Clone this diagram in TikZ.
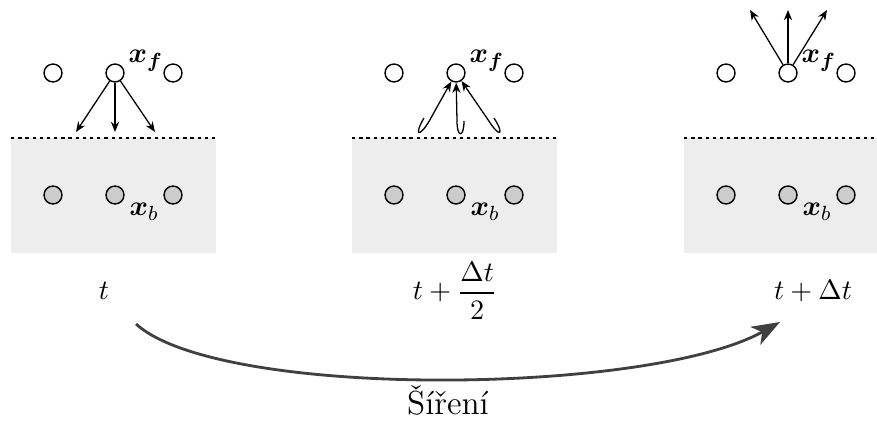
\documentclass[tikz,border=0pt]{standalone}
\usepackage{amsmath,bm}
\usetikzlibrary{arrows.meta}
\definecolor{panelgray}{gray}{0.93}
\definecolor{ballgray}{gray}{0.8}
\definecolor{arcgray}{gray}{0.25}
\begin{document}
\begin{tikzpicture}[x=0.39pt,y=0.39pt,
  font=\fontsize{11}{13}\selectfont,
  freept/.style={circle,draw,fill=white,line width=0.55pt,minimum size=7pt,inner sep=0pt},
  bndpt/.style={freept,fill=ballgray},
  panel/.style={fill=panelgray,draw=none},
  surf/.style={line width=0.5pt,dash pattern=on 1.3pt off 1.5pt},
  arr/.style={line width=0.5pt,-{Stealth[length=4pt,width=3.2pt]}},
  lbl/.style={inner sep=0pt,anchor=base west},
  tlbl/.style={inner sep=0pt,anchor=base},
  arcarr/.style={arcgray,line width=1.1pt,-{Stealth[length=11pt,width=8pt,inset=3pt]}}
]
\useasboundingbox (0,0) rectangle (877,425);
% panels
\foreach \o/\n in {0/a,341/b,673/c}{
  \fill[panelgray] (11+\o,172) rectangle (216+\o,287);
  \draw[surf] (11+\o,287) -- (216+\o,287);
  \node[freept] (f1\n) at (53+\o,352) {};
  \node[freept] (f2\n) at (115+\o,352) {};
  \node[freept] (f3\n) at (173+\o,352) {};
  \node[bndpt] (b1\n) at (53+\o,230) {};
  \node[bndpt] (b2\n) at (115+\o,230) {};
  \node[bndpt] (b3\n) at (173+\o,230) {};
  \node[lbl] (xf\n) at (128+\o,362) {$\bm{x}_{\bm{f}}$};
  \node[lbl] (xb\n) at (129+\o,209) {$\bm{x}_b$};
}
% panel 1 arrows (downwards)
\coordinate (d1) at (76,293);
\coordinate (d2) at (115,293);
\coordinate (d3) at (155,293);
\draw[arr] (f2a) -- (d1);
\draw[arr] (f2a) -- (d2);
\draw[arr] (f2a) -- (d3);
% panel 2 reflected arrows
\coordinate (h1) at (424,307);
\coordinate (h2) at (464,304);
\coordinate (h3) at (494,307);
\draw[arr] (h1) .. controls (413.8,289.8) and (418.9,286.7) .. (429.2,303.9) -- (f2b);
\draw[arr] (h2) .. controls (464,287) and (457,287) .. (457,304) -- (f2b);
\draw[arr] (h3) .. controls (504.8,290.2) and (499.8,286.9) .. (489,303.8) -- (f2b);
% panel 3 arrows (upwards)
\coordinate (u1) at (750,415);
\coordinate (u2) at (788,415);
\coordinate (u3) at (827,415);
\draw[arr] (f2c) -- (u1);
\draw[arr] (f2c) -- (u2);
\draw[arr] (f2c) -- (u3);
% time labels
\node[tlbl] (t1) at (104,125) {$t$};
\node[tlbl] (t2) at (455,125) {$t+\dfrac{\Delta t}{2}$};
\node[tlbl] (t3) at (813,125) {$t+\Delta t$};
% propagation arc
\coordinate (arcS) at (136,101);
\coordinate (arcE) at (780,103);
\draw[arcarr] (arcS) .. controls (220,25) and (650,30) .. (arcE);
\node[tlbl] (prop) at (448,10) {\fontsize{13}{15}\selectfont Šíření};
\end{tikzpicture}
\end{document}
